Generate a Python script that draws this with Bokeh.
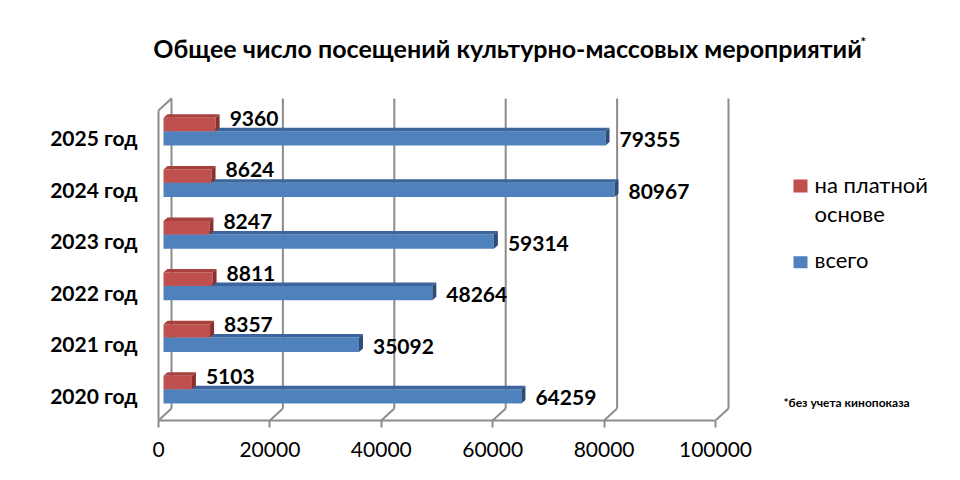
from bokeh.plotting import figure
from bokeh.models import Range1d, FixedTicker, BasicTickFormatter
from bokeh.embed import file_html
from bokeh.resources import INLINE
from bokeh.core.properties import value

# ---------------- data ----------------
years = ["2020 год", "2021 год", "2022 год", "2023 год", "2024 год", "2025 год"]
total = [64259, 35092, 48264, 59314, 80967, 79355]   # всего
paid = [5103, 8357, 8811, 8247, 8624, 9360]          # на платной основе
x_ticks = [0, 20000, 40000, 60000, 80000, 100000]
legend_paid = ["на платной", "основе"]
legend_total = "всего"
title_text = "Общее число посещений культурно-массовых мероприятий"
title_mark = "*"
footnote = "*без учета кинопоказа"

# ---------------- geometry (figure pixels) ----------------
W, H = 944, 464
K = 557 / 100000.0        # px per unit along x
ZERO_F = 158              # figure px of x=0
PY = 51.6                 # px per category step
CAT0_F = 395              # figure px of first category centre
FRAME_L, FRAME_B = 150, 420


def dx(px):
    return px / K


def dy(px):
    return px / PY


def fx(f):
    return (f - ZERO_F) / K


def fy(f):
    return (CAT0_F - f) / PY


BLUE, BLUE_TOP, BLUE_SIDE = "#4F81BD", "#3B659C", "#2C4D77"
RED, RED_TOP, RED_SIDE = "#C0504D", "#A8413E", "#8A302D"
GRID = "#8C8C8C"
FONT = "Lato"

p = figure(width=W, height=H, output_backend="svg", toolbar_location=None,
           x_range=Range1d(fx(FRAME_L), fx(W)),
           y_range=Range1d(fy(FRAME_B), fy(0)),
           min_border_left=FRAME_L, min_border_right=0, min_border_top=0,
           min_border_bottom=H - FRAME_B)
p.outline_line_color = None
p.xgrid.grid_line_color = None
p.ygrid.grid_line_color = None
p.background_fill_color = "white"
p.border_fill_color = "white"

# ---- 3D walls / grid ----
DX, DY = dx(13), dy(12)
floor_front = fy(FRAME_B)
top_front = fy(110)
p.segment(x0=[t + DX for t in x_ticks], y0=[floor_front + DY] * len(x_ticks),
          x1=[t + DX for t in x_ticks], y1=[top_front + DY] * len(x_ticks),
          line_color=GRID, line_width=2)
p.segment(x0=x_ticks, y0=[floor_front] * len(x_ticks),
          x1=[t + DX for t in x_ticks], y1=[floor_front + DY] * len(x_ticks),
          line_color=GRID, line_width=2)
p.segment(x0=[0, 0], y0=[floor_front, top_front], x1=[0, DX], y1=[top_front, top_front + DY],
          line_color=GRID, line_width=2)

# ---- 3D bars ----
X0 = dx(5)
BDX, BDY = dx(4), dy(3.5)


def bars(vals, lo, hi, front, topc, side):
    cats = list(range(len(vals)))
    left = [X0] * len(vals)
    right = [X0 + v for v in vals]
    bottom = [c + lo for c in cats]
    top = [c + hi for c in cats]
    p.quad(left=left, right=right, bottom=bottom, top=top, fill_color=front, line_color=None)
    p.patches(xs=[[l, r, r + BDX, l + BDX] for l, r in zip(left, right)],
              ys=[[t, t, t + BDY, t + BDY] for t in top],
              fill_color=topc, line_color=None)
    p.patches(xs=[[r, r, r + BDX, r + BDX] for r in right],
              ys=[[b, t, t + BDY, b + BDY] for b, t in zip(bottom, top)],
              fill_color=side, line_color=None)


bars(total, -dy(8), dy(6.3), BLUE, BLUE_TOP, BLUE_SIDE)
bars(paid, dy(6.3), dy(19.7), RED, RED_TOP, RED_SIDE)

cats = list(range(len(years)))
p.text(x=[X0 + v + BDX + dx(10) for v in total], y=[c - dy(2.3) for c in cats],
       text=[str(v) for v in total], text_font=value(FONT), text_font_style="bold",
       text_font_size="21px", text_color="black", text_align="left",
       text_baseline="alphabetic")
p.text(x=[X0 + v + BDX + dx(10) for v in paid], y=[c + dy(19.3) for c in cats],
       text=[str(v) for v in paid], text_font=value(FONT), text_font_style="bold",
       text_font_size="21px", text_color="black", text_align="left",
       text_baseline="alphabetic")

# ---- title ----
p.text(x=[fx(507)], y=[fy(47)], text=[title_text], text_font=value(FONT),
       text_font_style="bold", text_font_size="25px", text_color="black",
       text_align="center", text_baseline="alphabetic")
p.text(x=[fx(860)], y=[fy(41)], text=[title_mark], text_font=value(FONT),
       text_font_style="bold", text_font_size="13px", text_color="black",
       text_align="left", text_baseline="alphabetic")

# ---- legend ----
p.quad(left=[fx(793)] * 2, right=[fx(807)] * 2, top=[fy(179), fy(255.7)],
       bottom=[fy(192), fy(267.7)], fill_color=[RED, BLUE], line_color=None)
p.text(x=[fx(814)] * 3, y=[fy(184), fy(212.5), fy(259)],
       text=legend_paid + [legend_total], text_font=value(FONT),
       text_font_size="22px", text_color="black", text_align="left",
       text_baseline="alphabetic")
p.text(x=[fx(783)], y=[fy(402)], text=[footnote], text_font=value(FONT),
       text_font_style="bold", text_font_size="12px", text_color="black",
       text_align="left", text_baseline="alphabetic")

# ---- axes ----
xa = p.xaxis[0]
xa.ticker = FixedTicker(ticks=x_ticks)
xa.formatter = BasicTickFormatter(use_scientific=False)
xa.bounds = (x_ticks[0], x_ticks[-1])
xa.axis_line_color = GRID
xa.axis_line_width = 2
xa.major_tick_line_color = GRID
xa.major_tick_line_width = 2
xa.major_tick_out = 7
xa.major_tick_in = 0
xa.minor_tick_line_color = None
xa.major_label_standoff = 14
xa.major_label_text_font = FONT
xa.major_label_text_font_size = "21px"
xa.major_label_text_color = "black"

ya = p.yaxis[0]
ya.ticker = FixedTicker(ticks=cats)
ya.major_label_overrides = {c: years[c] for c in cats}
ya.axis_line_color = None
ya.major_tick_line_color = None
ya.minor_tick_line_color = None
ya.major_tick_out = 0
ya.major_tick_in = 0
ya.major_label_standoff = 13
ya.major_label_text_font = FONT
ya.major_label_text_font_style = "bold"
ya.major_label_text_font_size = "21px"
ya.major_label_text_color = "black"

open("out.html", "w").write(file_html(p, INLINE))
